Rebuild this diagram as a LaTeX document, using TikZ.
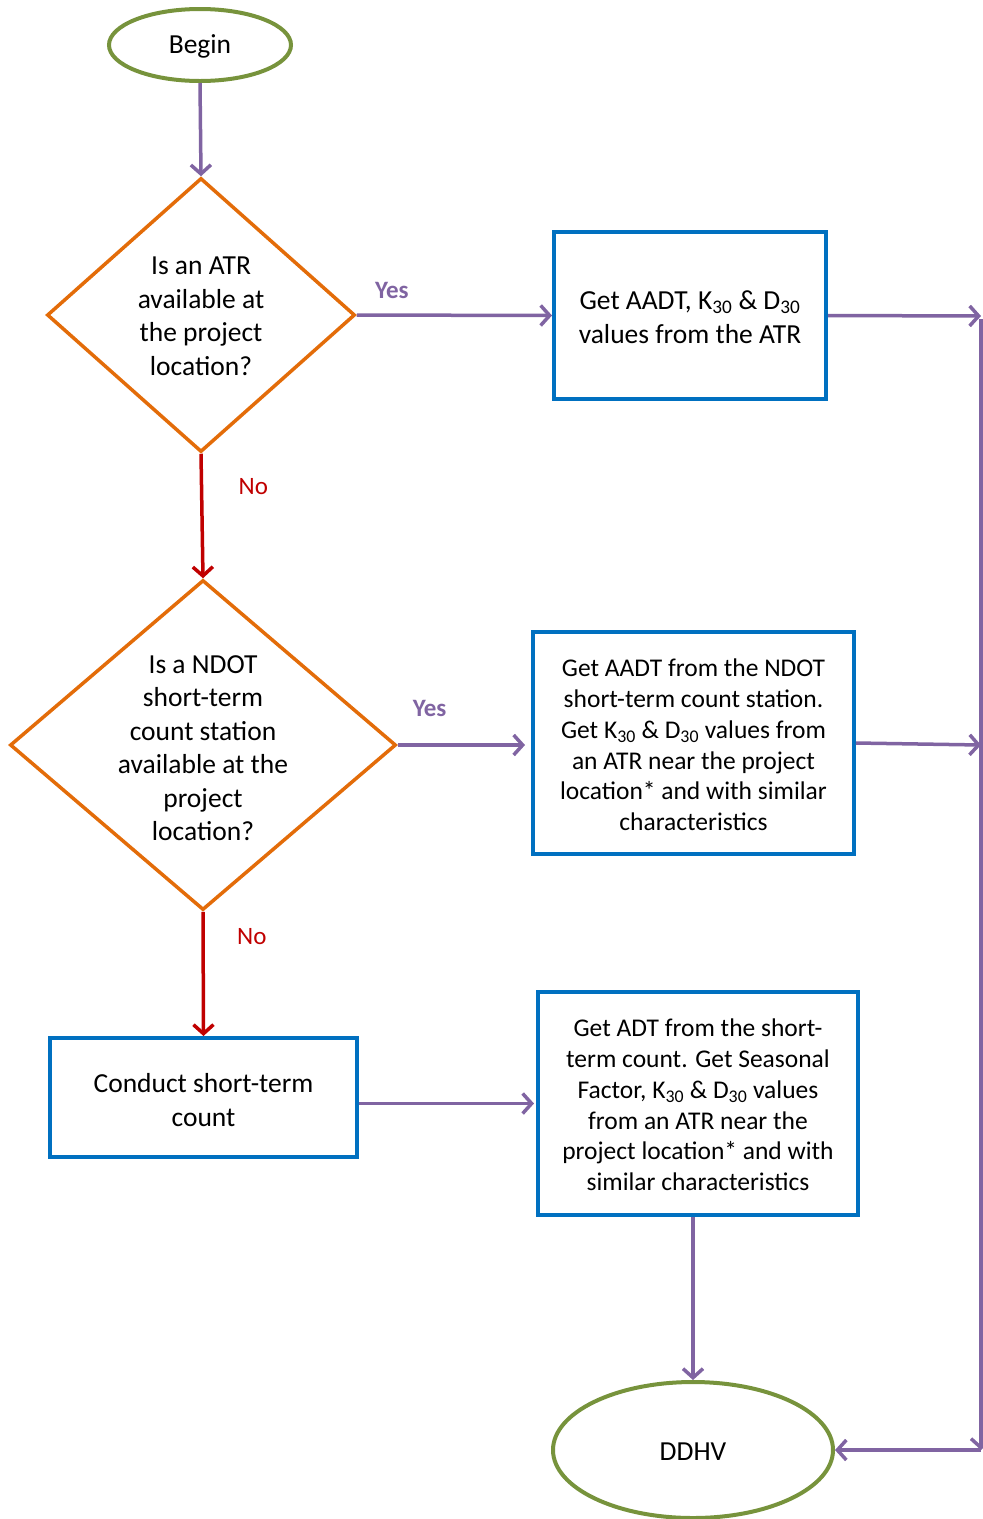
\documentclass[tikz,border=0pt]{standalone}
\usepackage{fontspec}
\setmainfont{Carlito}
\usetikzlibrary{arrows.meta,shapes.geometric}
\definecolor{cgreen}{HTML}{77933C}
\definecolor{corange}{HTML}{E36C09}
\definecolor{cblue}{HTML}{0070C0}
\definecolor{cpurple}{HTML}{8064A2}
\definecolor{cred}{HTML}{C00000}
\tikzset{
  oval/.style={ellipse,draw=cgreen,line width=4pt,inner sep=0pt},
  decide/.style={diamond,draw=corange,line width=3.5pt,inner sep=0pt},
  procbox/.style={rectangle,draw=cblue,line width=4pt,inner sep=0pt},
  txt/.style={align=center,font=\fontsize{27.5}{33.5}\selectfont},
  stxt/.style={align=center,font=\fontsize{25.5}{30.8}\selectfont},
  parr/.style={draw=cpurple,line width=3.5pt,-{Straight Barb[length=9pt,width=20pt]}},
  rarr/.style={draw=cred,line width=3.5pt,-{Straight Barb[length=9pt,width=20pt]}},
  yeslab/.style={text=cpurple,font=\fontsize{25}{28}\selectfont\bfseries},
  nolab/.style={text=cred,font=\fontsize{25}{28}\selectfont},
}
\begin{document}
\begin{tikzpicture}[x=1pt,y=-1pt]
\useasboundingbox (0,0) rectangle (983,1519);
% Begin
\node[oval,minimum width=182pt,minimum height=72pt] (begin) at (200,45) {};
\node[txt] (begint) at (200,46.5) {Begin};
% Diamond 1
\node[decide,minimum width=308pt,minimum height=274pt] (d1) at (201,315) {};
\node[txt] (d1t) at (201,316.5) {Is an ATR\\available at\\the project\\location?};
% Box 1
\node[procbox,minimum width=272pt,minimum height=167pt] (b1) at (690,315.5) {};
\node[txt] (b1t) at (690,317) {Get AADT, K\textsubscript{30} \& D\textsubscript{30}\\values from the ATR};
% Diamond 2
\node[decide,minimum width=386pt,minimum height=330pt] (d2) at (203,745) {};
\node[txt] (d2t) at (203,748) {Is a NDOT\\short-term\\count station\\available at the\\project\\location?};
% Box 2
\node[procbox,minimum width=321pt,minimum height=222pt] (b2) at (693.5,743) {};
\node[stxt] (b2t) at (693.5,745) {Get AADT from the NDOT\\short-term count station.\\Get K\textsubscript{30} \& D\textsubscript{30} values from\\an ATR near the project\\location* and with similar\\characteristics};
% Box 3
\node[procbox,minimum width=307pt,minimum height=119pt] (b3) at (203.5,1097.5) {};
\node[txt] (b3t) at (203.5,1100) {Conduct short-term\\count};
% Box 4
\node[procbox,minimum width=320pt,minimum height=223pt] (b4) at (698,1103.5) {};
\node[stxt] (b4t) at (698,1105) {Get ADT from the short-\\term count. Get Seasonal\\Factor, K\textsubscript{30} \& D\textsubscript{30} values\\from an ATR near the\\project location* and with\\similar characteristics};
% DDHV
\node[oval,minimum width=280pt,minimum height=136pt] (ddhv) at (693,1450) {};
\node[txt] (ddhvt) at (693,1452) {DDHV};
% collector line
\coordinate (r1) at (981,316);
\coordinate (r2) at (981,745);
\coordinate (rtop) at (981,319);
\coordinate (rbot) at (981,1450);
% connectors
\draw[parr] (begin.south) -- (d1.north);
\draw[parr] (d1.east) -- node[yeslab,above=11pt,pos=0.18] (yes1) {Yes} (b1.west);
\draw[rarr] (d1.south) -- node[nolab,right=32pt,pos=0.26] (no1) {No} (d2.north);
\draw[parr] (d2.east) -- node[yeslab,above=23pt,pos=0.25] (yes2) {Yes} ([xshift=-6pt]d2.east -| b2.west);
\draw[rarr] (d2.south) -- node[nolab,right=29pt,pos=0.2] (no2) {No} (b3.north);
\draw[parr] (b3.east |- b4.west) -- ([xshift=-2pt]b4.west);
\draw[parr] (b1.east) -- (r1);
\draw[parr] (b2.east) -- (r2);
\draw[parr] (b4.south -| ddhv.north) -- (ddhv.north);
\draw[parr] (rtop) -- (rbot);
\draw[parr] (rbot) -- (ddhv.east);
\end{tikzpicture}
\end{document}
